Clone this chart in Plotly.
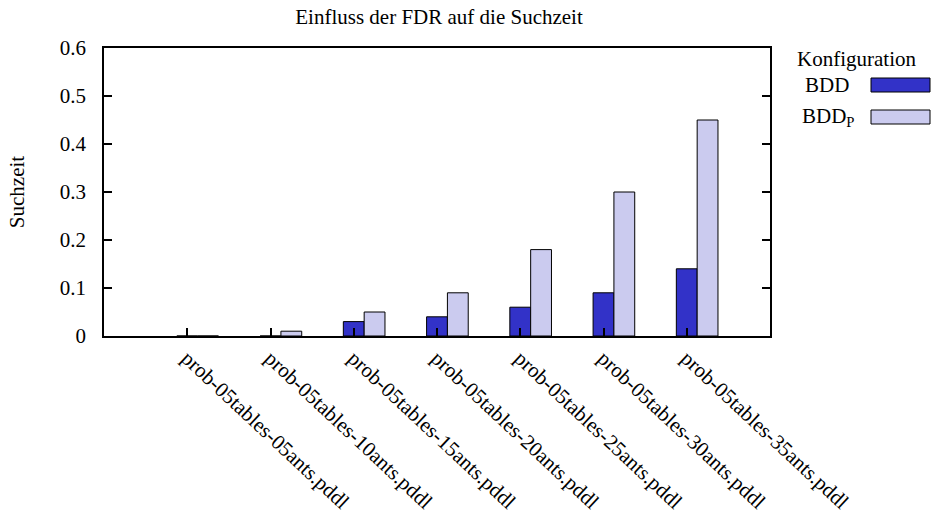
import plotly.graph_objects as go

# Suchzeit je Problem, für beide Konfigurationen
problems = [
    "prob-05tables-05ants.pddl",
    "prob-05tables-10ants.pddl",
    "prob-05tables-15ants.pddl",
    "prob-05tables-20ants.pddl",
    "prob-05tables-25ants.pddl",
    "prob-05tables-30ants.pddl",
    "prob-05tables-35ants.pddl",
]
bdd = [0.0, 0.0, 0.03, 0.04, 0.06, 0.09, 0.14]
bdd_p = [0.0, 0.01, 0.05, 0.09, 0.18, 0.30, 0.45]
series_names = ["BDD", "BDD<sub>P</sub>"]
y_ticks = [0, 0.1, 0.2, 0.3, 0.4, 0.5, 0.6]

W, H = 935, 518
M_L, M_R, M_T, M_B = 104, 165, 48, 182
PLOT_W = W - M_L - M_R
PLOT_H = H - M_T - M_B

FAMILY = "Liberation Serif, Times New Roman, serif"
FS = 21
TXT = dict(family=FAMILY, size=FS, color="#000000")
DARK = "#3232c8"
LIGHT = "#cbcbef"
BAR_W = 0.25


def px_x(px):
    return (px - M_L) / PLOT_W


def px_y(py):
    return (H - M_B - py) / PLOT_H


idx = list(range(len(problems)))

fig = go.Figure()
fig.add_trace(go.Bar(
    x=idx, y=bdd, name=series_names[0], width=BAR_W, offset=-BAR_W / 2,
    marker=dict(color=DARK, line=dict(color="#000000", width=1)),
))
fig.add_trace(go.Bar(
    x=idx, y=bdd_p, name=series_names[1], width=BAR_W, offset=BAR_W / 2,
    marker=dict(color=LIGHT, line=dict(color="#000000", width=1)),
))

# key at the upper right, label left of each swatch
shapes = []
annotations = [
    dict(text="Konfiguration", x=px_x(856), y=px_y(59), xref="paper", yref="paper",
         xanchor="center", yanchor="middle", showarrow=False, font=TXT),
]
rows = [(85, DARK, series_names[0], 851), (117, LIGHT, series_names[1], 857)]
for cy, col, label, right in rows:
    shapes.append(dict(type="rect", xref="paper", yref="paper",
                       x0=px_x(871), x1=px_x(930), y0=px_y(cy - 7), y1=px_y(cy + 7),
                       fillcolor=col, line=dict(color="#000000", width=1)))
    annotations.append(dict(text=label, x=px_x(right), y=px_y(cy), xref="paper", yref="paper",
                            xanchor="right", yanchor="middle", showarrow=False, font=TXT))

fig.update_layout(
    width=W, height=H,
    margin=dict(l=M_L, r=M_R, t=M_T, b=M_B, pad=0, autoexpand=False),
    paper_bgcolor="#ffffff", plot_bgcolor="#ffffff",
    barmode="overlay", showlegend=False,
    font=TXT,
    title=dict(text="Einfluss der FDR auf die Suchzeit", x=439 / W, xref="container",
               xanchor="center", y=1 - 17 / H, yanchor="middle", yref="container",
               font=TXT),
    xaxis=dict(range=[-1, 7], tickmode="array", tickvals=idx, ticktext=problems,
               tickangle=43, tickfont=TXT, automargin=False,
               ticks="inside", ticklen=8, tickwidth=1.5, tickcolor="#000000",
               showline=True, linecolor="#000000", linewidth=1.5, mirror=True,
               showgrid=False, zeroline=False, layer="above traces"),
    yaxis=dict(range=[0, 0.6], tickmode="array", tickvals=y_ticks,
               ticktext=[f"{v:g}" for v in y_ticks], tickfont=TXT, automargin=False,
               ticks="inside", ticklen=8, tickwidth=1.5, tickcolor="#000000",
               showline=True, linecolor="#000000", linewidth=1.5, mirror="ticks",
               showgrid=False, zeroline=False, ticklabelstandoff=12, layer="above traces",
               title=dict(text="Suchzeit", standoff=29, font=TXT)),
    shapes=shapes, annotations=annotations,
)

fig.write_html("out.html")
